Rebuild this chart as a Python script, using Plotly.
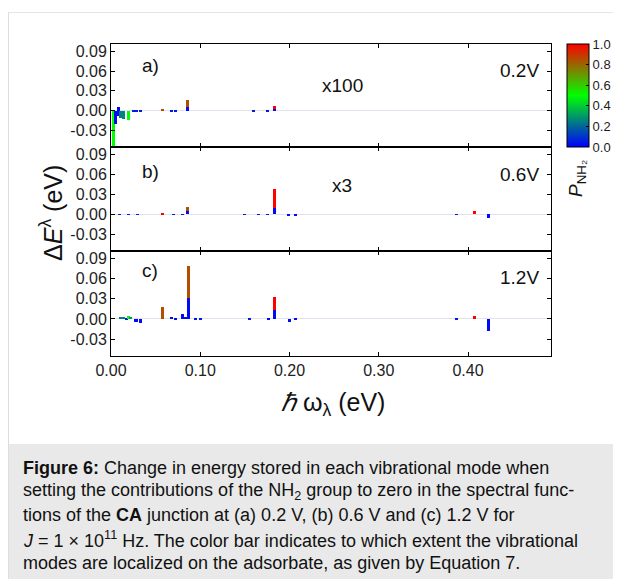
import plotly.graph_objects as go

# ---------------- data ----------------
# panel a) 0.2 V (values shown x100)
omega_a = [0.0026, 0.0055, 0.008, 0.008, 0.011, 0.014, 0.020, 0.025, 0.029, 0.033,
           0.058, 0.068, 0.072, 0.086, 0.086, 0.160, 0.175, 0.183, 0.183]
dE_a = [-0.060, -0.020, 0.005, -0.008, -0.011, -0.0125, -0.014, -0.001, -0.0015, -0.001,
        0.003, -0.001, -0.0015, 0.0165, 0.006, -0.0008, -0.0008, 0.0075, 0.002]
P_a = [0.5, 0.02, 0.02, 0.02, 0.25, 0.25, 0.5, 0.05, 0.05, 0.05,
       0.85, 0.05, 0.05, 0.85, 0.02, 0.05, 0.05, 1.0, 0.02]

# panel b) 0.6 V (values shown x3)
omega_b = [0.0026, 0.010, 0.020, 0.030, 0.058, 0.070, 0.080, 0.086, 0.086, 0.150,
           0.165, 0.175, 0.183, 0.183, 0.199, 0.207, 0.387, 0.4077, 0.423]
dE_b = [-0.001, -0.0008, -0.0008, -0.0008, 0.001, -0.0008, -0.0008, 0.011, 0.005, -0.0008,
        -0.0008, -0.001, 0.0375, 0.010, -0.003, -0.003, -0.001, 0.005, -0.005]
P_b = [0.5, 0.05, 0.05, 0.05, 1.0, 0.05, 0.05, 0.85, 0.02, 0.05,
       0.05, 0.05, 1.0, 0.02, 0.02, 0.02, 0.05, 1.0, 0.02]

# panel c) 1.2 V
omega_c = [0.011, 0.014, 0.017, 0.020, 0.022, 0.028, 0.033, 0.058, 0.068, 0.072,
           0.080, 0.083, 0.087, 0.087, 0.095, 0.100, 0.155, 0.176, 0.183, 0.183,
           0.200, 0.207, 0.387, 0.4077, 0.423]
dE_c = [0.002, 0.003, -0.002, 0.005, 0.003, -0.004, -0.006, 0.018, 0.003, -0.001,
        0.008, 0.003, 0.0785, 0.0315, -0.001, -0.001, -0.001, -0.002, 0.0325, 0.013,
        -0.004, -0.002, -0.001, 0.0045, -0.0175]
P_c = [0.25, 0.25, 0.02, 0.5, 0.3, 0.02, 0.02, 0.85, 0.02, 0.02,
       0.02, 0.02, 0.85, 0.02, 0.05, 0.05, 0.05, 0.02, 1.0, 0.02,
       0.02, 0.02, 0.05, 1.0, 0.02]

panel_labels = ["a)", "b)", "c)"]
scale_labels = ["x100", "x3", ""]
voltage_labels = ["0.2V", "0.6V", "1.2V"]

y_tickvals = [-0.03, 0.0, 0.03, 0.06, 0.09]
y_ticktext = ["-0.03", "0.00", "0.03", "0.06", "0.09"]
x_tickvals = [0.0, 0.1, 0.2, 0.3, 0.4]
x_ticktext = ["0.00", "0.10", "0.20", "0.30", "0.40"]
cb_tickvals = [0.0, 0.2, 0.4, 0.6, 0.8, 1.0]

caption_lines = [
    "<b>Figure 6:</b> Change in energy stored in each vibrational mode when",
    "setting the contributions of the NH<sub>2</sub> group to zero in the spectral func-",
    "tions of the <b>CA</b> junction at (a) 0.2 V, (b) 0.6 V and (c) 1.2 V for",
    "<i>J</i> = 1 × 10<sup>11</sup> Hz. The color bar indicates to which extent the vibrational",
    "modes are localized on the adsorbate, as given by Equation 7.",
]

# ---------------- layout helpers ----------------
OFF = 8                      # page body margin
W, H = 621 - OFF, 579 - OFF  # figure size so that page == window
def px(x):
    return (x - OFF) / W
def py(y):
    return 1 - (y - OFF) / H

FONT = "Liberation Sans, Arial, Helvetica, sans-serif"
colorscale = [[0.0, "#0000ff"], [0.5, "#00ff00"], [1.0, "#ff0000"]]

panel_px = [(44, 147), (147, 251), (251, 356)]
x_dom = [px(111), px(551)]

fig = go.Figure()
series = [(omega_a, dE_a, P_a), (omega_b, dE_b, P_b), (omega_c, dE_c, P_c)]
for i, (om, de, pp) in enumerate(series):
    ax = "" if i == 0 else str(i + 1)
    marker = dict(color=pp, colorscale=colorscale, cmin=0, cmax=1, line=dict(width=0))
    if i == 0:
        marker.update(showscale=True, colorbar=dict(
            x=px(567), xanchor="left", xpad=0, ypad=0,
            y=py(95.5), yanchor="middle", len=103 / H, lenmode="fraction",
            thickness=22, thicknessmode="pixels",
            outlinecolor="black", outlinewidth=1,
            tickvals=cb_tickvals, tickformat=".1f",
            ticks="inside", ticklen=3, tickcolor="black",
            tickfont=dict(family=FONT, size=13, color="#222")))
    fig.add_trace(go.Bar(x=om, y=de, width=0.0034, marker=marker,
                         xaxis="x" + ax, yaxis="y" + ax, showlegend=False))

axis_common = dict(showline=True, linecolor="black", linewidth=1, mirror="ticks",
                   ticks="inside", ticklen=4, tickcolor="black", showgrid=False,
                   automargin=False)
for i, (t, b) in enumerate(panel_px):
    ax = "" if i == 0 else str(i + 1)
    fig.layout["xaxis" + ax] = dict(
        domain=x_dom, range=[0, 0.493], anchor="y" + ax,
        tickvals=x_tickvals, ticktext=x_ticktext, showticklabels=(i == 2),
        tickfont=dict(family=FONT, size=16, color="#222"), zeroline=False,
        **axis_common)
    fig.layout["yaxis" + ax] = dict(
        domain=[py(b), py(t)], range=[-0.055, 0.101], anchor="x" + ax,
        tickvals=y_tickvals, ticktext=y_ticktext,
        tickfont=dict(family=FONT, size=16, color="#222"),
        zeroline=True, zerolinecolor="#e2e2ee", zerolinewidth=1,
        **axis_common)

ann = []
def label(x, y, text, size, **kw):
    d = dict(x=px(x), y=py(y), text=text, showarrow=False, xref="paper", yref="paper",
             xanchor="center", yanchor="middle",
             font=dict(family=FONT, size=size, color="#111"))
    d.update(kw)
    ann.append(d)

lab_y = [65, 172, 270]
scl_y = [85, 185, 0]
volt_y = [70, 175, 278]
for i in range(3):
    label(150, lab_y[i], panel_labels[i], 19)
    if scale_labels[i]:
        label(342, scl_y[i], scale_labels[i], 19)
    label(519, volt_y[i], voltage_labels[i], 19)

label(51, 213, "Δ<i>E</i><sup>λ</sup> (eV)", 25, textangle=-90)
label(333, 404, "<i>ℏ</i> ω<sub>λ</sub> (eV)", 25)
label(577, 179, "<i>P</i><sub>NH₂</sub>", 19, textangle=-90)

line_y = [468, 491, 515, 539, 563]
for txt, yy in zip(caption_lines, line_y):
    label(21, yy, txt, 18, xanchor="left")

shapes = [
    dict(type="rect", xref="paper", yref="paper", x0=px(8), x1=1, y0=0, y1=py(444),
         fillcolor="#e9e9e9", line=dict(width=0), layer="below"),
    dict(type="line", xref="paper", yref="paper", x0=px(8.5), x1=px(8.5), y0=0, y1=py(12),
         line=dict(color="#dddddd", width=1)),
    dict(type="line", xref="paper", yref="paper", x0=px(8.5), x1=1, y0=py(12.5), y1=py(12.5),
         line=dict(color="#e4e4e4", width=1)),
]

fig.update_layout(
    width=W, height=H, margin=dict(l=0, r=0, t=0, b=0, pad=0, autoexpand=False),
    paper_bgcolor="white", plot_bgcolor="white",
    barmode="overlay", bargap=0,
    annotations=ann, shapes=shapes,
    font=dict(family=FONT),
)

fig.write_html("out.html")
